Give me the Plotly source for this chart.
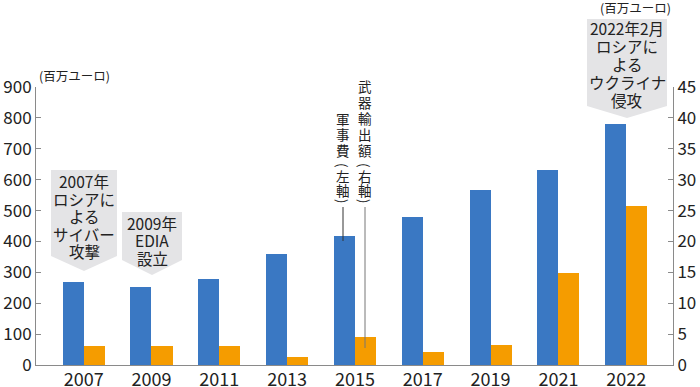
import plotly.graph_objects as go

years = ["2007", "2009", "2011", "2013", "2015", "2017", "2019", "2021", "2022"]
military = [270, 252, 278, 360, 417, 478, 567, 630, 780]      # 軍事費（左軸）百万ユーロ
exports = [3.0, 3.0, 3.0, 1.35, 4.5, 2.15, 3.3, 14.9, 25.7]   # 武器輸出額（右軸）百万ユーロ
left_ticks = [0, 100, 200, 300, 400, 500, 600, 700, 800, 900]
right_ticks = [0, 5, 10, 15, 20, 25, 30, 35, 40, 45]

W, H = 700, 387
L, R, T, B = 36, 27, 87, 22
PW, PH = W - L - R, H - T - B
FONT = "Noto Sans CJK JP"

def px(x):
    return (x - L) / PW

def py(y):
    return (H - B - y) / PH

fig = go.Figure()
fig.add_trace(go.Bar(x=years, y=military, marker_color="#3a78c3", width=0.31, offset=-0.31,
                     marker_line_width=0, name="軍事費", yaxis="y"))
fig.add_trace(go.Bar(x=years, y=exports, marker_color="#f59c00", width=0.31, offset=0,
                     marker_line_width=0, name="武器輸出額", yaxis="y2"))

shapes = []
annotations = []

def pentagon(x0, x1, top, side, tip, lines, y_first, pitch):
    xc = (x0 + x1) / 2
    path = (f"M{px(x0)},{py(top)} L{px(x1)},{py(top)} L{px(x1)},{py(side)} "
            f"L{px(xc)},{py(tip)} L{px(x0)},{py(side)} Z")
    shapes.append(dict(type="path", path=path, xref="paper", yref="paper",
                       fillcolor="#e4e4e6", line=dict(width=0), layer="below"))
    for i, t in enumerate(lines):
        annotations.append(dict(x=px(xc), y=py(y_first + i * pitch), xref="paper", yref="paper",
                                text=t, showarrow=False, xanchor="center", yanchor="middle",
                                font=dict(family=FONT, size=15.5, color="#222")))

pentagon(51, 117, 170, 256, 271, ["2007年", "ロシアに", "よる", "サイバー", "攻撃"], 181, 17.6)
pentagon(122, 182, 212, 260, 275, ["2009年", "EDIA", "設立"], 222.5, 17.5)
pentagon(587, 667, 19, 106, 118, ["2022年2月", "ロシアに", "よる", "ウクライナ", "侵攻"], 28, 18)

def vlabel(x, chars, ys):
    for c, y in zip(chars, ys):
        rot = 90 if c in "()" else 0
        annotations.append(dict(x=px(x), y=py(y), xref="paper", yref="paper", text=c,
                                showarrow=False, xanchor="center", yanchor="middle",
                                textangle=rot,
                                font=dict(family=FONT, size=13.5, color="#222")))

vlabel(343, ["軍", "事", "費", "(", "左", "軸", ")"], [119, 134, 150, 165, 176, 190, 201])
vlabel(365, ["武", "器", "輸", "出", "額", "(", "右", "軸", ")"],
       [85.5, 101.5, 117.5, 133.5, 150, 165, 176, 190, 201])

shapes.append(dict(type="line", xref="paper", yref="paper", x0=px(343), x1=px(343),
                   y0=py(207), y1=py(241), line=dict(color="#333", width=1)))
shapes.append(dict(type="line", xref="paper", yref="paper", x0=px(365), x1=px(365),
                   y0=py(207), y1=py(348), line=dict(color="#777", width=1)))

annotations.append(dict(x=px(37), y=py(75), xref="paper", yref="paper", text="(百万ユーロ)",
                        showarrow=False, xanchor="left", yanchor="middle",
                        font=dict(family=FONT, size=12.5, color="#222")))
annotations.append(dict(x=px(673), y=py(7), xref="paper", yref="paper", text="(百万ユーロ)",
                        showarrow=False, xanchor="right", yanchor="middle",
                        font=dict(family=FONT, size=12.5, color="#222")))

axis_common = dict(showgrid=False, zeroline=False, showline=True, linecolor="#8a8a8a",
                   linewidth=1, ticks="inside", ticklen=5, tickcolor="#8a8a8a",
                   automargin=False,
                   tickfont=dict(family=FONT, size=17, color="#222"), fixedrange=True)

fig.update_layout(
    width=W, height=H,
    margin=dict(l=L, r=R, t=T, b=B),
    paper_bgcolor="white", plot_bgcolor="white",
    showlegend=False,
    bargap=0,
    xaxis=dict(type="category", range=[-0.703, 8.69], showgrid=False, zeroline=False,
               showline=True, linecolor="#8a8a8a", linewidth=1, ticks="", automargin=False,
               ticklabelstandoff=-2,
               tickfont=dict(family=FONT, size=18, color="#222")),
    yaxis=dict(range=[0, 900], tickvals=left_ticks, **axis_common),
    yaxis2=dict(range=[0, 45], tickvals=right_ticks, overlaying="y", side="right",
                anchor="x", **axis_common),
    shapes=shapes,
    annotations=annotations,
)

fig.write_html("out.html", config={"displayModeBar": False},
               post_script="document.body.style.margin='0';document.body.style.overflow='hidden';")
